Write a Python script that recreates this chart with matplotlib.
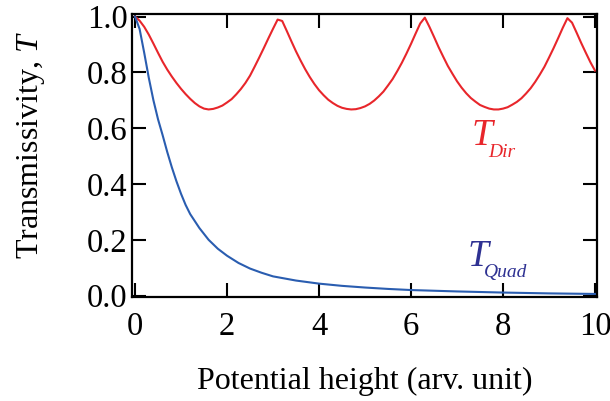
import matplotlib
matplotlib.use("Agg")
import matplotlib.pyplot as plt

# ---- data ----
x_dir = [round(0.1 * i, 1) for i in range(101)]
t_dir = [1.000, 0.985, 0.963, 0.935, 0.903, 0.870, 0.838, 0.810, 0.785, 0.762,
         0.741, 0.722, 0.705, 0.690, 0.678, 0.670, 0.667, 0.669, 0.674, 0.681,
         0.692, 0.704, 0.721, 0.740, 0.762, 0.788, 0.820, 0.853, 0.887, 0.922,
         0.956, 0.989, 0.984, 0.948, 0.911, 0.875, 0.842, 0.811, 0.783, 0.758,
         0.736, 0.718, 0.702, 0.690, 0.680, 0.673, 0.669, 0.667, 0.668, 0.672,
         0.678, 0.687, 0.699, 0.714, 0.731, 0.753, 0.776, 0.804, 0.834, 0.867,
         0.902, 0.939, 0.975, 0.996, 0.963, 0.927, 0.890, 0.856, 0.823, 0.795,
         0.768, 0.745, 0.725, 0.708, 0.695, 0.683, 0.676, 0.670, 0.667, 0.667,
         0.670, 0.675, 0.684, 0.694, 0.707, 0.724, 0.743, 0.766, 0.792, 0.820,
         0.853, 0.887, 0.923, 0.960, 0.994, 0.978, 0.942, 0.905, 0.870, 0.836,
         0.806]

x_quad = [0, 0.1, 0.2, 0.3, 0.4, 0.5, 0.6, 0.7, 0.8, 0.9, 1.0, 1.1, 1.2, 1.4, 1.6,
          1.8, 2.0, 2.25, 2.5, 2.75, 3.0, 3.5, 4.0, 4.5, 5.0, 5.5, 6.0, 7.0, 8.0,
          9.0, 10.0]
t_quad = [1.000, 0.955, 0.870, 0.780, 0.700, 0.632, 0.575, 0.515, 0.460, 0.410,
          0.365, 0.325, 0.292, 0.242, 0.200, 0.168, 0.143, 0.117, 0.097, 0.082,
          0.069, 0.054, 0.043, 0.035, 0.029, 0.024, 0.020, 0.015, 0.011, 0.008,
          0.006]

x_ticks = [0, 2, 4, 6, 8, 10]
y_ticks = [0.0, 0.2, 0.4, 0.6, 0.8, 1.0]
y_ticklabels = ["0.0", "0.2", "0.4", "0.6", "0.8", "1.0"]

xlabel = "Potential height (arv. unit)"
ylabel = r"Transmissivity, $T$"

# ---- styling ----
plt.rcParams['font.family'] = ['Liberation Serif', 'DejaVu Serif']
plt.rcParams['mathtext.fontset'] = 'custom'
plt.rcParams['mathtext.it'] = 'Liberation Serif:italic'
plt.rcParams['mathtext.rm'] = 'Liberation Serif'
RED = "#e8262b"
BLUE = "#2a5db0"
DARKBLUE = "#2e3192"

fig = plt.figure(figsize=(6.1, 4.01), dpi=100)
ax = fig.add_axes([0.2159, 0.2586, 0.7628, 0.7065])

ax.plot(x_dir, t_dir, color=RED, lw=1.5, solid_joinstyle='round')
ax.plot(x_quad, t_quad, color=BLUE, lw=1.5, solid_joinstyle='round')

ax.set_xlim(-0.072, 10.043)
ax.set_ylim(-0.006, 1.009)
ax.set_xticks(x_ticks)
ax.set_xticklabels([str(v) for v in x_ticks])
ax.set_yticks(y_ticks)
ax.set_yticklabels(y_ticklabels)

for s in ax.spines.values():
    s.set_linewidth(1.6)
ax.tick_params(axis='both', direction='in', length=10, width=1.5,
               top=True, right=True, labelsize=23.5)
ax.tick_params(axis='x', pad=10.5)
ax.tick_params(axis='y', pad=3)

ax.set_xlabel(xlabel, fontsize=23)
ax.xaxis.set_label_coords(0.5, -0.245)

fig.text(0.051, 0.638, ylabel, rotation=90, fontsize=23,
         ha='center', va='center')

# Curve labels
ax.text(7.31, 0.539, "T", color=RED, fontsize=27, style='italic',
        ha='left', va='baseline')
ax.text(7.68, 0.496, "Dir", color=RED, fontsize=14, style='italic',
        ha='left', va='baseline')
ax.text(7.23, 0.106, "T", color=DARKBLUE, fontsize=27, style='italic',
        ha='left', va='baseline')
ax.text(7.59, 0.067, "Quad", color=DARKBLUE, fontsize=14, style='italic',
        ha='left', va='baseline')

fig.savefig("out.png", dpi=100)
